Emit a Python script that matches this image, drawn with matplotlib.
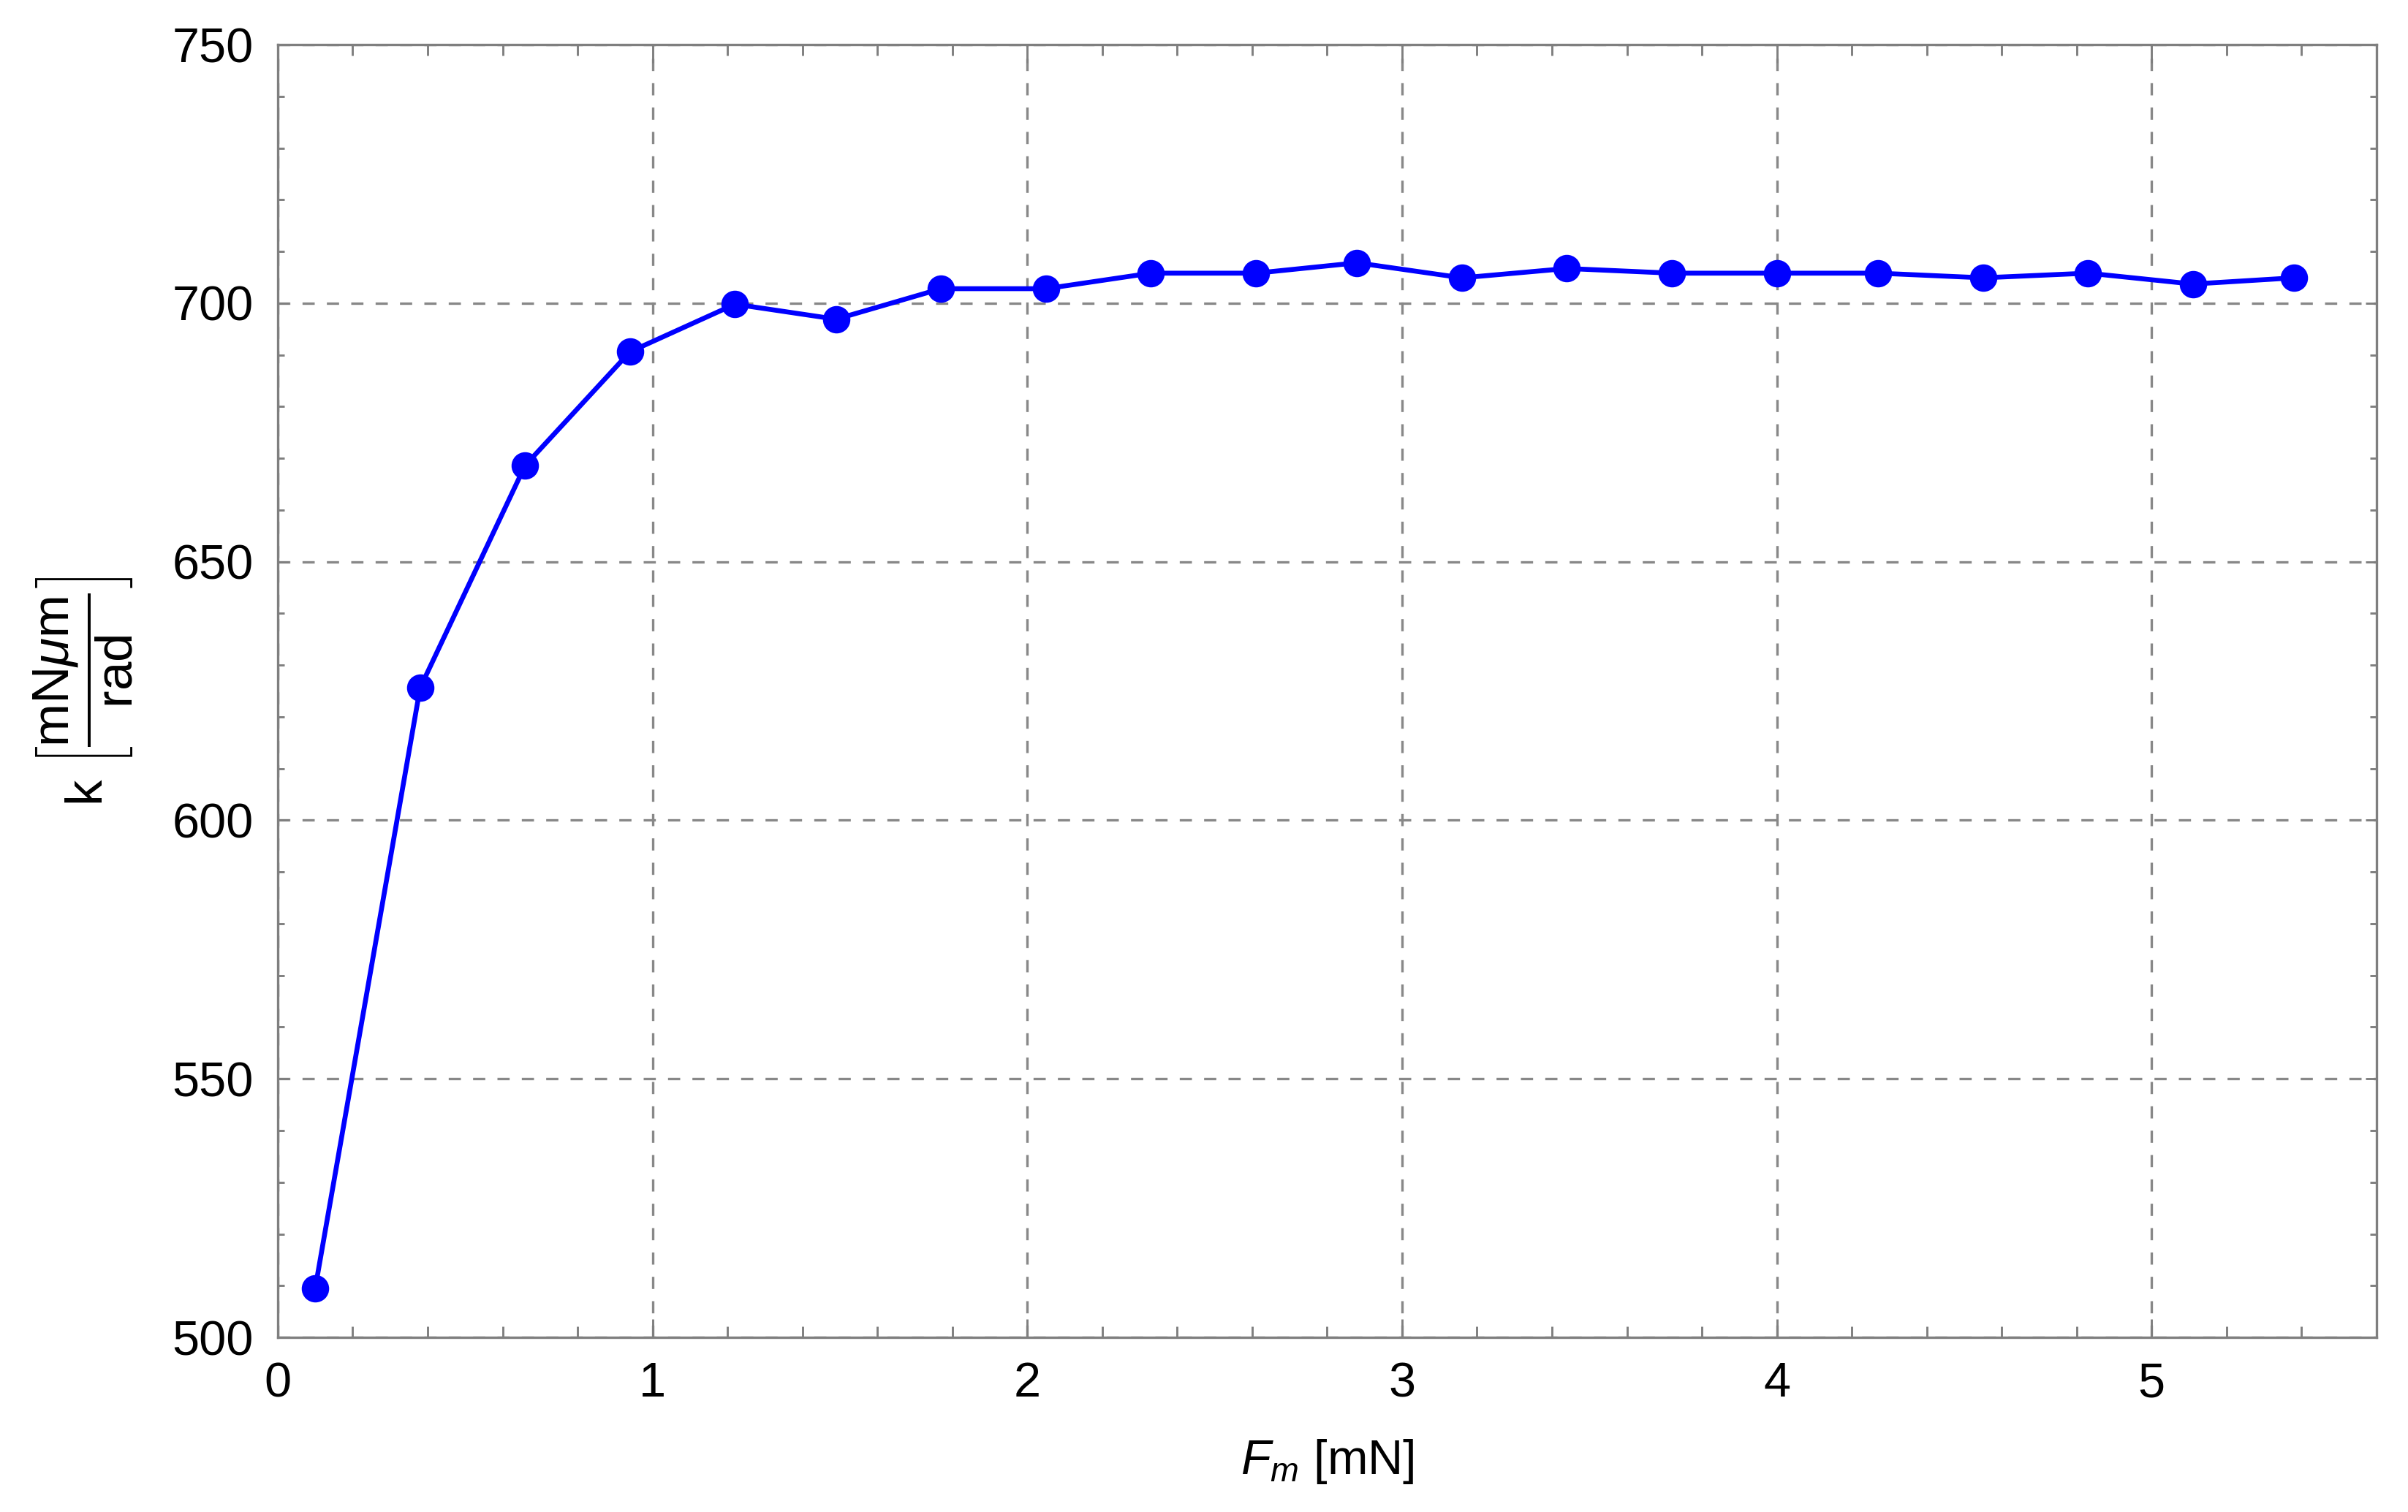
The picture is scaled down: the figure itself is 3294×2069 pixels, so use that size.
import matplotlib
matplotlib.use("Agg")
import matplotlib.pyplot as plt
from matplotlib.ticker import MultipleLocator

# data
force_mN = [0.10, 0.38, 0.66, 0.94, 1.22, 1.49, 1.77, 2.05, 2.33, 2.61,
            2.88, 3.16, 3.44, 3.72, 4.00, 4.27, 4.55, 4.83, 5.11, 5.38]
stiffness = [509.5, 625.6, 668.6, 690.6, 699.8, 696.9, 702.8, 702.8, 705.8, 705.8,
             707.8, 704.9, 706.7, 705.8, 705.8, 705.8, 704.9, 705.8, 703.7, 704.9]
x_ticks = [0, 1, 2, 3, 4, 5]
y_ticks = [500, 550, 600, 650, 700, 750]

plt.rcParams["font.family"] = ["Liberation Sans", "DejaVu Sans"]
plt.rcParams["mathtext.fontset"] = "custom"
plt.rcParams["mathtext.rm"] = "Liberation Sans"
plt.rcParams["mathtext.it"] = "Liberation Sans:italic"
plt.rcParams["mathtext.bf"] = "Liberation Sans:bold"

fig = plt.figure(figsize=(3295 / 300, 2069 / 300), dpi=300)
ax = fig.add_axes([0.1153, 0.1155, 0.8713, 0.855])

ax.plot(force_mN, stiffness, color="#0000FF", lw=1.6, marker="o",
        markersize=8, zorder=3)

ax.set_xlim(0, 5.6)
ax.set_ylim(500, 750)
ax.set_xticks(x_ticks)
ax.set_yticks(y_ticks)
ax.xaxis.set_minor_locator(MultipleLocator(0.2))
ax.yaxis.set_minor_locator(MultipleLocator(10))

gray = "#7f7f7f"
for s in ax.spines.values():
    s.set_color(gray)
    s.set_linewidth(0.8)

ax.tick_params(axis="both", which="both", direction="in", colors=gray,
               labelcolor="black", labelsize=16, width=0.7,
               top=True, right=True)
ax.tick_params(axis="x", which="major", length=6, pad=8)
ax.tick_params(axis="x", which="minor", length=3.6)
ax.tick_params(axis="y", which="major", length=3.6, pad=8)
ax.tick_params(axis="y", which="minor", length=2.2)

ax.grid(True, which="major", color="#888888", linestyle=(0, (5, 5)), lw=0.8)
ax.set_axisbelow(True)

ax.set_xlabel(r"$F_m$ [mN]", fontsize=16, labelpad=10)
ax.set_ylabel(r"k $\left[\dfrac{\mathrm{mN}\mu\mathrm{m}}{\mathrm{rad}}\right]$",
              fontsize=17, labelpad=12)

fig.savefig("out.png", dpi=300)
